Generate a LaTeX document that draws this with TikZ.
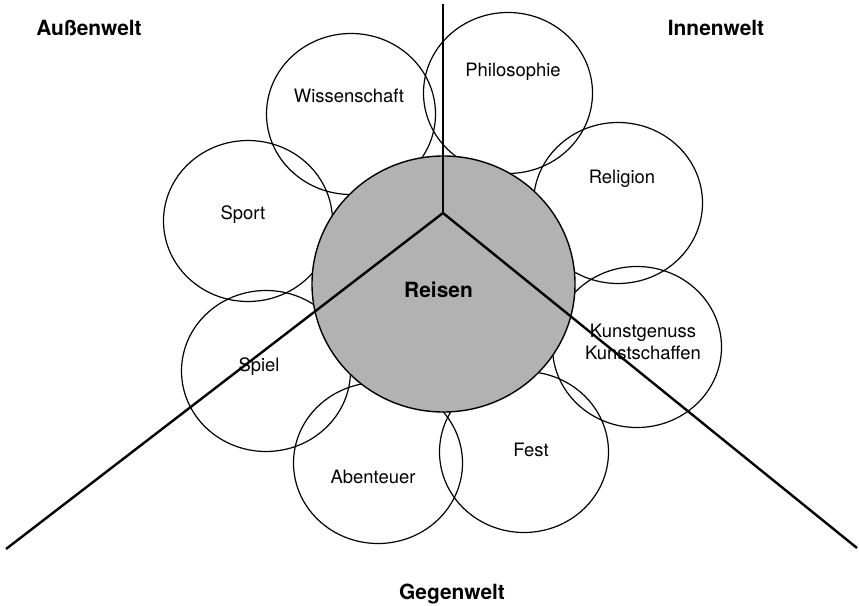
\documentclass[tikz,border=0pt]{standalone}
\usepackage{fontspec}
\setmainfont{TeX Gyre Heros}
\usetikzlibrary{positioning,shapes.geometric}
\definecolor{hubgray}{gray}{0.70}
\tikzset{
  bubble/.style={draw,ellipse,line width=1.2bp,minimum width=169bp,minimum height=161bp,inner sep=0pt},
  bubbletext/.style={font=\fontsize{18.5}{22}\selectfont,align=center},
  worldtext/.style={font=\fontsize{21}{24}\selectfont\bfseries},
  divider/.style={line width=2.4bp}
}

\begin{document}
\begin{tikzpicture}[x=1bp,y=-1bp]
  \useasboundingbox (0,0) rectangle (859,606);

  % Bubbles around the hub
  \node[bubble] (wiss) at (351,114) {};
  \node[bubble] (philo) at (508,93) {};
  \node[bubble] (reli) at (618,203) {};
  \node[bubble] (kunst) at (637,347) {};
  \node[bubble] (fest) at (524,452) {};
  \node[bubble] (abent) at (378,463) {};
  \node[bubble] (spiel) at (266,371) {};
  \node[bubble] (sport) at (248,221) {};

  % Hub
  \node[draw,ellipse,fill=hubgray,line width=1.4bp,minimum width=263bp,minimum height=256bp,inner sep=0pt] (hub) at (443.5,284) {};

  % Dividing lines
  \coordinate (fork) at (443,213);
  \coordinate (topend) at (443,4);
  \coordinate (leftend) at (6,549);
  \coordinate (rightend) at (857,548);
  \draw[divider] (fork) -- (topend);
  \draw[divider] (fork) -- (leftend);
  \draw[divider] (fork) -- (rightend);

  % Labels
  \node[worldtext] (hubtext) at (438.5,290) {Reisen};
  \node[bubbletext] (wisstext) at (349,96) {Wissenschaft};
  \node[bubbletext] (philotext) at (513,72) {Philosophie};
  \node[bubbletext] (relitext) at (622,179) {Religion};
  \node[bubbletext] (kunsttext) at (643,342) {Kunstgenuss\\Kunstschaffen};
  \node[bubbletext] (festtext) at (531,450) {Fest};
  \node[bubbletext] (abenttext) at (373,477) {Abenteuer};
  \node[bubbletext] (spieltext) at (259,367) {Spiel};
  \node[bubbletext] (sporttext) at (243,215) {Sport};

  \node[worldtext] (aussen) at (89,28) {Außenwelt};
  \node[worldtext] (innen) at (716,28) {Innenwelt};
  \node[worldtext] (gegen) at (452,594) {Gegenwelt};
\end{tikzpicture}
\end{document}
